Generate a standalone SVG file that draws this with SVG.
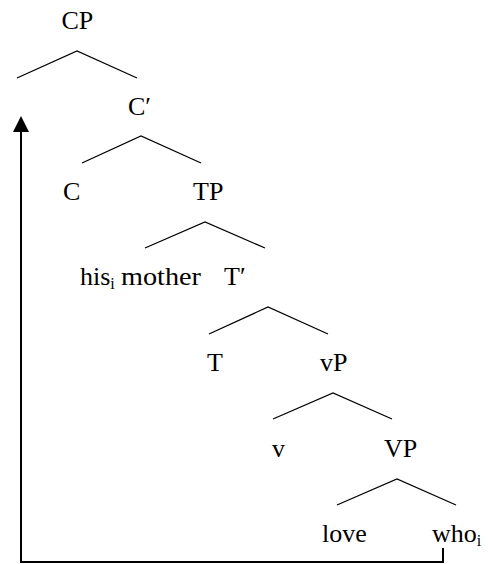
<svg xmlns="http://www.w3.org/2000/svg" width="488" height="564" viewBox="0 0 488 564">
<style>
text{font-family:"Liberation Serif","Times New Roman",serif;font-size:26px;fill:#000}
.sub{font-size:16px}
.br{stroke:#000;stroke-width:1.3;fill:none}
.mv{stroke:#000;stroke-width:2;fill:none}
</style>
<rect width="488" height="564" fill="#fff"/>
<g id="connectors">
<polyline class="br" points="17,78 77,51 137,78"/>
<polyline class="br" points="82,163 141,136 201,163"/>
<polyline class="br" points="145,248 205,222 265,248"/>
<polyline class="br" points="209,334 268,307 328,334"/>
<polyline class="br" points="273,419 333,393 392,419"/>
<polyline class="br" points="337,505 397,479 456,505"/>
<polyline class="mv" points="443,548 443,562 21,562 21,131"/>
<path d="M21,116 L29,132 L13,132 Z" fill="#000"/>
</g>
<g id="CP"><text x="61.5" y="29">CP</text></g>
<g id="Cbar"><text x="128" y="114.5">C′</text></g>
<g id="C"><text x="63" y="200">C</text></g>
<g id="TP"><text x="193" y="200">TP</text></g>
<g id="hismother"><text x="80" y="285">his<tspan class="sub" dy="4">i</tspan><tspan x="121" dy="-4" textLength="80" lengthAdjust="spacingAndGlyphs">mother</tspan></text></g>
<g id="Tbar"><text x="224" y="285">T′</text></g>
<g id="T"><text x="207" y="371">T</text></g>
<g id="vP"><text x="320" y="371">vP</text></g>
<g id="v"><text x="272" y="456.5">v</text></g>
<g id="VP"><text x="384" y="456.5">VP</text></g>
<g id="love"><text x="322" y="542">love</text></g>
<g id="who"><text x="432" y="542">who<tspan class="sub" dy="4">i</tspan></text></g>
</svg>
